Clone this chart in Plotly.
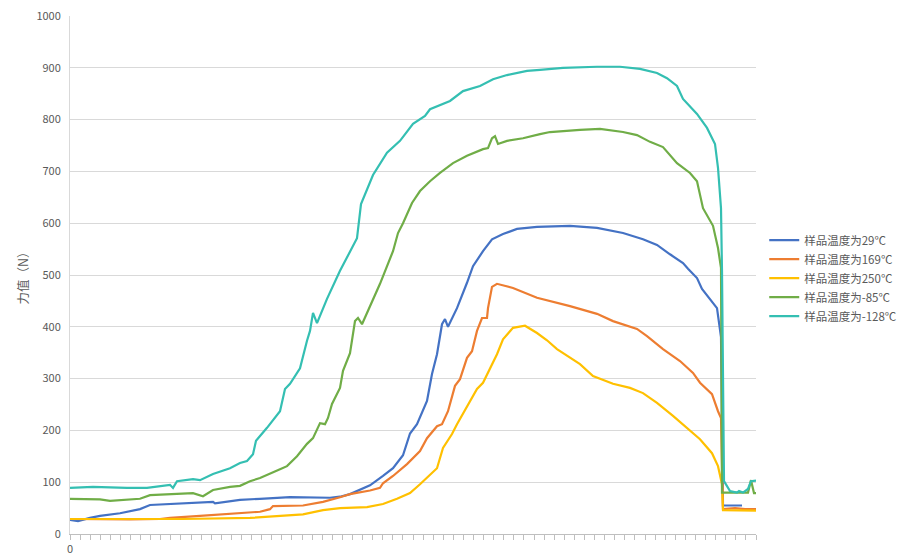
import plotly.graph_objects as go

# Sample positions (category index) and force values (N)
x_29 = [0, 8, 20, 30, 50, 70, 80, 100, 130, 143, 145, 170, 190, 220, 260, 270, 280, 300, 313, 323, 333, 340, 347, 357, 362, 367, 372, 375, 378, 387, 397, 403, 413, 422, 433, 447, 467, 500, 527, 553, 573, 587, 600, 613, 618, 627, 632, 643, 647, 651, 653, 672]
y_29 = [27, 25, 31, 35, 40, 48, 56, 58, 60, 62, 59, 66, 68, 71, 70, 72, 77, 94, 112, 127, 152, 194, 212, 257, 309, 347, 405, 415, 400, 436, 485, 517, 546, 569, 579, 589, 593, 595, 591, 581, 569, 558, 540, 523, 512, 494, 473, 446, 436, 380, 55, 55]

x_169 = [0, 30, 60, 90, 100, 130, 157, 190, 200, 203, 233, 253, 270, 280, 300, 310, 313, 323, 337, 350, 357, 367, 372, 378, 385, 390, 397, 402, 407, 412, 417, 418, 422, 427, 443, 467, 500, 527, 543, 567, 577, 593, 610, 623, 630, 642, 648, 651, 653, 665, 675, 686]
y_169 = [29, 28, 28, 29, 31, 35, 38, 43, 48, 54, 55, 62, 71, 77, 84, 89, 98, 112, 135, 160, 185, 208, 212, 237, 286, 299, 340, 353, 392, 417, 417, 436, 477, 483, 475, 456, 440, 425, 411, 396, 382, 357, 334, 311, 292, 270, 237, 224, 48, 50, 48, 48]

x_250 = [0, 113, 180, 233, 253, 270, 297, 313, 327, 340, 350, 367, 373, 382, 387, 400, 407, 413, 427, 433, 443, 455, 467, 477, 487, 510, 523, 543, 560, 573, 587, 603, 617, 630, 642, 648, 652, 653, 686]
y_250 = [29, 29, 31, 38, 46, 50, 52, 58, 68, 79, 96, 127, 166, 193, 212, 257, 280, 292, 347, 376, 398, 402, 388, 374, 357, 328, 305, 290, 282, 272, 253, 228, 205, 183, 156, 131, 96, 46, 45]

x_m85 = [0, 30, 40, 70, 80, 100, 123, 133, 143, 160, 170, 180, 190, 210, 217, 227, 237, 243, 250, 255, 258, 262, 270, 273, 280, 285, 288, 292, 298, 310, 323, 328, 333, 342, 350, 360, 370, 383, 397, 413, 418, 422, 425, 428, 437, 453, 470, 480, 510, 530, 553, 567, 580, 593, 607, 620, 627, 633, 643, 648, 651, 652, 678, 681, 684, 686]
y_m85 = [68, 67, 64, 68, 75, 77, 79, 73, 85, 91, 93, 102, 108, 125, 131, 150, 174, 185, 214, 212, 224, 251, 282, 315, 349, 411, 417, 405, 430, 483, 546, 581, 600, 639, 662, 681, 697, 716, 730, 743, 745, 764, 768, 753, 759, 764, 772, 776, 780, 782, 776, 770, 757, 747, 716, 697, 681, 629, 595, 552, 514, 80, 80, 104, 79, 79]

x_m128 = [0, 23, 57, 77, 100, 103, 107, 123, 130, 143, 160, 170, 177, 180, 183, 186, 197, 210, 215, 220, 230, 237, 240, 243, 247, 257, 270, 287, 291, 303, 317, 330, 343, 355, 360, 380, 393, 410, 423, 437, 457, 470, 493, 527, 550, 570, 587, 597, 607, 613, 627, 637, 645, 648, 651, 652, 654, 660, 667, 669, 673, 678, 681, 686]
y_m128 = [89, 91, 89, 89, 95, 89, 102, 106, 104, 116, 127, 137, 141, 147, 154, 180, 205, 237, 280, 290, 320, 373, 392, 427, 407, 454, 508, 571, 637, 693, 736, 759, 792, 807, 820, 836, 855, 865, 878, 886, 894, 896, 900, 902, 902, 898, 890, 880, 865, 840, 811, 784, 753, 707, 629, 508, 102, 83, 80, 83, 80, 87, 102, 103]

series_names = ["样品温度为29℃", "样品温度为169℃", "样品温度为250℃", "样品温度为-85℃", "样品温度为-128℃"]
series_colors = ["#4472C4", "#ED7D31", "#FFC000", "#70AD47", "#34BFB2"]
series_x = [x_29, x_169, x_250, x_m85, x_m128]
series_y = [y_29, y_169, y_250, y_m85, y_m128]

y_ticks = [0, 100, 200, 300, 400, 500, 600, 700, 800, 900, 1000]
x_first_label = "0"
n_x_ticks = 68
x_end = 686

fig = go.Figure()
for name, color, xs, ys in zip(series_names, series_colors, series_x, series_y):
    fig.add_trace(go.Scatter(x=xs, y=ys, mode="lines", name=name,
                             line=dict(color=color, width=2.2)))

tick_step = x_end / n_x_ticks
tickvals = [i * tick_step for i in range(n_x_ticks + 1)]
ticktext = [x_first_label] + [""] * n_x_ticks

font_family = "Noto Sans CJK SC, Noto Sans, sans-serif"
fig.update_layout(
    width=899, height=552,
    margin=dict(l=62, r=151, t=8, b=26, autoexpand=False),
    paper_bgcolor="white", plot_bgcolor="white",
    font=dict(family=font_family, size=11, color="#595959"),
    showlegend=True,
    legend=dict(x=1.012, y=0.494, xanchor="left", yanchor="middle",
                font=dict(size=11.5, color="#595959"), itemwidth=30,
                tracegroupgap=0, bgcolor="rgba(0,0,0,0)"),
)
fig.update_xaxes(range=[0, x_end], tickmode="array", tickvals=tickvals, ticktext=ticktext,
                 ticks="outside", ticklen=5, tickcolor="#BFBFBF", tickwidth=1,
                 showline=True, linecolor="#BFBFBF", linewidth=1,
                 showgrid=False, zeroline=False, automargin=False,
                 ticklabeloverflow="allow",
                 tickfont=dict(size=11, color="#595959"))
fig.update_yaxes(range=[0, 1000], tickmode="array", tickvals=y_ticks,
                 showgrid=True, gridcolor="#D9D9D9", gridwidth=1,
                 showline=True, linecolor="#D9D9D9", linewidth=1,
                 zeroline=False, ticks="", ticklabelstandoff=6, automargin=False,
                 ticklabeloverflow="allow",
                 tickfont=dict(size=11, color="#595959"),
                 title=dict(text="力值（N）", font=dict(size=12.5, color="#595959"), standoff=5))

fig.write_html("out.html")
